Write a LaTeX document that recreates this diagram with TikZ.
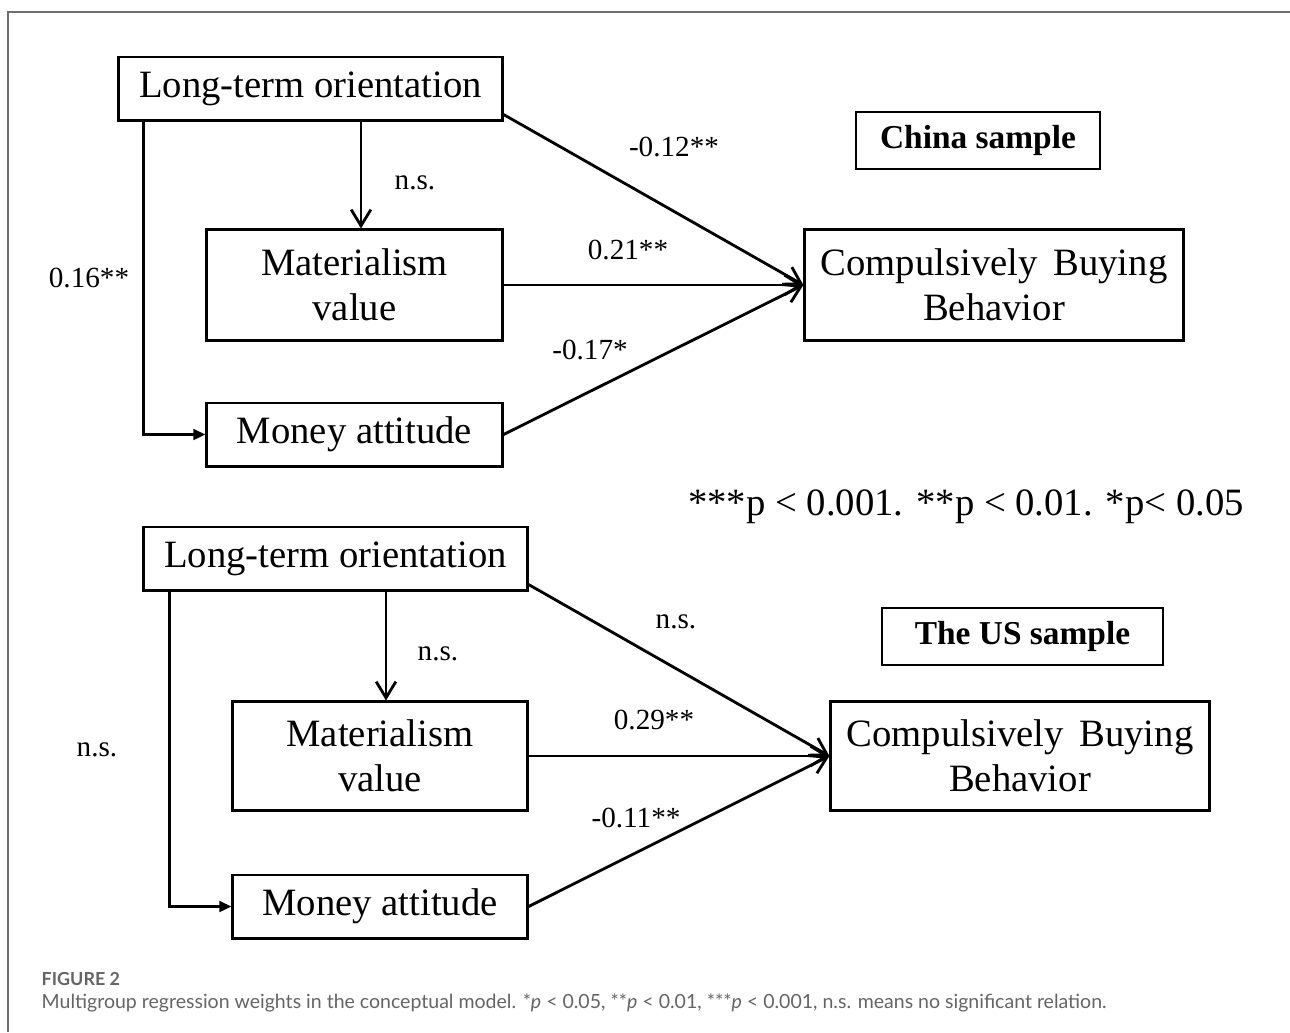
\documentclass[tikz,border=0pt]{standalone}
\usepackage{fontspec}
\setmainfont{Liberation Serif}
\newfontfamily\capfont{Lato}
\usetikzlibrary{arrows.meta, calc}
\definecolor{framegray}{RGB}{110,110,110}
\definecolor{capgray}{RGB}{100,100,100}

\begin{document}
\begin{tikzpicture}[x=0.01cm, y=-0.01cm,
	box/.style={draw, line width=0.85pt, align=center, inner sep=0pt, font=\fontsize{11}{12.8}\selectfont},
	tag/.style={draw, line width=0.55pt, inner sep=0pt, font=\fontsize{9.5}{11}\selectfont\bfseries},
	wt/.style={inner sep=0pt, font=\fontsize{8.3}{10}\selectfont},
	vee/.style={line width=0.8pt, -{Straight Barb[length=4.6pt,width=5.6pt]}},
	tri/.style={line width=0.8pt, -{Triangle[length=3.4pt,width=3pt]}}]
	\useasboundingbox (0,0) rectangle (1290,1032);
	
	% Frame (only top and left edges show)
	\draw[framegray, line width=0.4pt] (1290,12) -- (8,12) -- (8,1032);
	
	% China sample
	\node[box, minimum width=3.83cm, minimum height=0.63cm] (lto1) at (310.5,88.5) {Long-term orientation};
	\node[box, minimum width=2.95cm, minimum height=1.10cm] (mat1) at (354.5,285) {Materialism\\value};
	\node[box, minimum width=2.95cm, minimum height=0.63cm] (mon1) at (354.5,434.5) {Money attitude};
	\node[box, minimum width=3.78cm, minimum height=1.10cm] (cbb1) at (994,285) {Compulsively\hspace{0.06cm} Buying\\Behavior};
	\node[tag, minimum width=2.44cm, minimum height=0.57cm] (china) at (978,140.5) {China sample\hspace{0.16cm}};
	
	\draw[vee] ([xshift=0.065cm]mat1.north |- lto1.south) -- ([xshift=0.065cm]mat1.north);
	\draw[tri] ([xshift=0.26cm]lto1.south west) |- (mon1.west);
	\draw[vee] ([yshift=0.07cm]lto1.south east) -- (cbb1.west);
	\draw[vee] (mat1.east) -- (cbb1.west);
	\draw[vee] (mon1.east) -- (cbb1.west);
	
	\node[wt] (ns1) at (415,183) {n.s.};
	\node[wt] (w16) at (89,278) {0.16**};
	\node[wt] (w12) at (674,147) {-0.12**};
	\node[wt] (w21) at (628,250) {0.21**};
	\node[wt] (w17) at (590,350) {-0.17*};
	
	% Significance levels
	\node[anchor=base, inner sep=0pt, font=\fontsize{11}{13}\selectfont] (sig) at (966,515)
	{***p < 0.001. **p < 0.01. *p< 0.05};
	
	% The US sample
	\node[box, minimum width=3.83cm, minimum height=0.63cm] (lto2) at (335.5,558.5) {Long-term orientation};
	\node[box, minimum width=2.94cm, minimum height=1.08cm] (mat2) at (380,756) {Materialism\\value};
	\node[box, minimum width=2.94cm, minimum height=0.63cm] (mon2) at (380,906.5) {Money attitude};
	\node[box, minimum width=3.78cm, minimum height=1.08cm] (cbb2) at (1020,756) {Compulsively\hspace{0.06cm} Buying\\Behavior};
	\node[tag, minimum width=2.81cm, minimum height=0.57cm] (us) at (1022.5,636.5) {The US sample\hspace{0.34cm}};
	
	\draw[vee] ([xshift=0.06cm]mat2.north |- lto2.south) -- ([xshift=0.06cm]mat2.north);
	\draw[tri] ([xshift=0.27cm]lto2.south west) |- (mon2.west);
	\draw[vee] ([yshift=0.07cm]lto2.south east) -- (cbb2.west);
	\draw[vee] (mat2.east) -- (cbb2.west);
	\draw[vee] (mon2.east) -- (cbb2.west);
	
	\node[wt] (ns2) at (438,654) {n.s.};
	\node[wt] (ns3) at (97,750) {n.s.};
	\node[wt] (ns4) at (676,622) {n.s.};
	\node[wt] (w29) at (654,720) {0.29**};
	\node[wt] (w11) at (636,818) {-0.11**};
	
	% Caption
	\node[anchor=base west, inner sep=0pt, text=capgray, font=\capfont\bfseries\fontsize{5.1}{6}\selectfont] (fig) at (41,985) {FIGURE 2};
	\node[anchor=base west, inner sep=0pt, text=capgray, font=\capfont\fontsize{5.55}{6.5}\selectfont] (cap) at (41,1008)
	{Multigroup regression weights in the conceptual model. *\textit{p} < 0.05, **\textit{p} < 0.01, ***\textit{p} < 0.001, n.s. means no significant relation.};
\end{tikzpicture}
\end{document}
